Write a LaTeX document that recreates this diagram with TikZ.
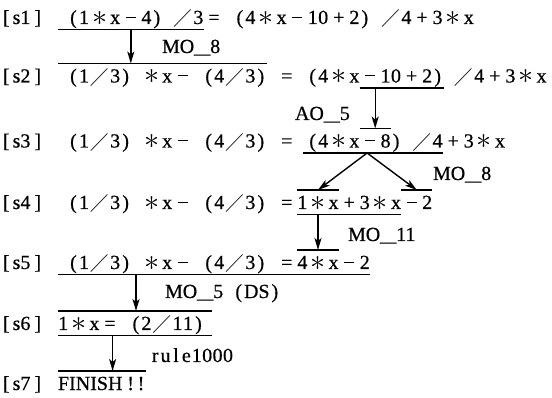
\documentclass[tikz,border=0pt]{standalone}
\usepackage{amssymb,graphicx}
\usepackage{fontspec}
\setmainfont{Liberation Serif}[FakeBold=0.6]
\usetikzlibrary{arrows.meta,calc}
\newcommand\Fw{20.8pt}
\newcommand\Hw{10.4pt}
\newcommand\SLg{$\diagup$}
\newcommand\STg{\raisebox{-.07em}{\scalebox{1.45}{$\ast$}}}
\newcommand\MIg{\rule[.3em]{.5em}{.07em}}
\newcommand\USc{\scalebox{1.6}[1]{\_}}
\ExplSyntaxOn
\cs_new_protected:Npn \my_cell:n #1
  {
    \str_case:nnF {#1}
      {
        {(} { \makebox[\Fw][r]{(\kern2pt} }
        {)} { \makebox[\Fw][l]{\kern2pt)} }
        {/} { \makebox[\Fw]{\SLg} }
        {*} { \makebox[\Fw]{\STg} }
        {-} { \makebox[\Fw]{\MIg} }
        {+} { \makebox[\Fw]{+} }
        {=} { \makebox[\Fw]{=} }
      }
      { \makebox[\Hw]{#1} }
  }
\NewDocumentCommand \eqs { m } { \tl_map_inline:nn {#1} { \my_cell:n {##1} } }
\ExplSyntaxOff
\newcommand\stp[1]{[\kern3pt s#1\kern4pt]}
\tikzset{
  seg/.style={inner sep=0pt,outer sep=0pt,anchor=base west,text height=19pt,text depth=5.5pt,font=\fontsize{20}{24}\selectfont},
  lab/.style={inner sep=0pt,outer sep=0pt,anchor=base west,font=\fontsize{20}{24}\selectfont},
  bar/.style={line width=1.9pt},
  arr/.style={line width=1.4pt,-{Stealth[length=12pt,width=7pt,inset=3pt]}},
}
\begin{document}
\begin{tikzpicture}[x=1pt,y=-1pt]
\useasboundingbox (0,0) rectangle (552,398);
% s1
\node[seg] (s1l) at (3,24) {\stp{1}};
\node[seg] (s1a) at (58,24) {\eqs{(1*x-4)/3}};
\node[seg] (s1b) at (s1a.base east) {\eqs{=(4*x-10+2)/4+3*x}};
% s2
\node[seg] (s2l) at (3,82.5) {\stp{2}};
\node[seg] (s2a) at (58,82.5) {\eqs{(1/3)*x-(4/3)}};
\node[seg] (s2b) at (s2a.base east) {\eqs{=(4*x}};
\node[seg] (s2c) at (s2b.base east) {\eqs{-10+2)}};
\node[seg] (s2d) at (s2c.base east) {\eqs{/4+3*x}};
% s3
\node[seg] (s3l) at (3,147.5) {\stp{3}};
\node[seg] (s3a) at (58,147.5) {\eqs{(1/3)*x-(4/3)=}};
\node[seg] (s3b) at (s3a.base east) {\eqs{(4*x}};
\node[seg] (s3c) at (s3b.base east) {\eqs{-8}};
\node[seg] (s3d) at (s3c.base east) {\eqs{)/4}};
\node[seg] (s3e) at (s3d.base east) {\eqs{+3*x}};
% s4
\node[seg] (s4l) at (3,209) {\stp{4}};
\node[seg] (s4a) at (58,209) {\eqs{(1/3)*x-(4/3)=}};
\node[seg] (s4b) at (s4a.base east) {\eqs{1*x}};
\node[seg] (s4c) at (s4b.base east) {\eqs{+3*x}};
\node[seg] (s4d) at (s4c.base east) {\eqs{-2}};
% s5
\node[seg] (s5l) at (3,269) {\stp{5}};
\node[seg] (s5a) at (58,269) {\eqs{(1/3)*x-(4/3)=}};
\node[seg] (s5b) at (s5a.base east) {\eqs{4*x}};
\node[seg] (s5c) at (s5b.base east) {\eqs{-2}};
% s6
\node[seg] (s6l) at (3,330) {\stp{6}};
\node[seg] (s6a) at (58,330) {\eqs{1*x=(2/11)}};
% s7
\node[seg] (s7l) at (3,390) {\stp{7}};
\node[seg] (s7a) at (58,390) {FINISH\kern3pt\eqs{!!}};
% labels
\node[lab] (m1) at (162,53) {MO\USc 8};
\node[lab] (m2) at (295,120) {AO\USc 5};
\node[lab] (m3) at (433,180) {MO\USc 8};
\node[lab] (m4) at (348,241) {MO\USc 11};
\node[lab] (m5) at (165,298) {MO\USc 5\eqs{(}DS\eqs{)}};
\node[lab] (m6) at (150,362) {\eqs{rule1000}};
% bars
\draw[bar] (s1a.south west) -- (s1a.south east);
\draw[bar] (s2a.north west) -- ([xshift=-9pt]s2a.north east);
\draw[bar] (s2c.south west) -- ([xshift=-9pt]s2c.south east);
\draw[bar] (s3c.north west) -- (s3c.north east);
\draw[bar] ([xshift=6pt]s3b.south west) -- (s3d.south east);
\draw[bar] (s4b.north west) -- (s4b.north east);
\draw[bar] (s4d.north west) -- (s4d.north east);
\draw[bar] (s4b.south west) -- (s4c.south east);
\draw[bar] (s5b.north west) -- (s5b.north east);
\draw[bar] (s5a.south west) -- (s5c.south east);
\draw[bar] (s6a.north west) -- ([xshift=-2pt]s6a.north east);
\draw[bar] (s6a.south west) -- ([xshift=-2pt]s6a.south east);
\draw[bar] (s7a.north west) -- (s7a.north east);
% arrows
\draw[arr] (s1a.south) -- (s1a.south |- s2a.north);
\draw[arr] (s3c.north |- s2c.south) -- (s3c.north);
\coordinate (s3m) at ($(s3b.south west)!0.48!(s3d.south east)$);
\draw[arr] (s3m) -- (s4b.north);
\draw[arr] (s3m) -- (s4d.north);
\draw[arr] (s5b.north |- s4b.south) -- (s5b.north);
\draw[arr] (s6a.north |- s5a.south) -- (s6a.north);
\coordinate (s6p) at ($(s6a.south west)!0.35!(s6a.south east)$);
\draw[arr] (s6p) -- (s6p |- s7a.north);
\end{tikzpicture}
\end{document}
